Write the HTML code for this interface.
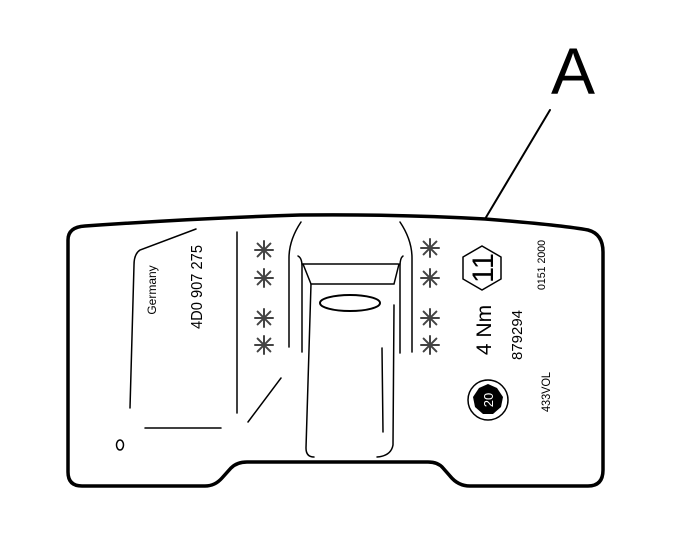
<!DOCTYPE html>
<html><head><meta charset="utf-8"><style>
html,body{margin:0;padding:0;background:#fff;}
svg{display:block;}
text{font-family:"Liberation Sans",sans-serif;}
</style></head><body>
<svg width="680" height="548" viewBox="0 0 680 548" xmlns="http://www.w3.org/2000/svg">
<defs>
<g id="ast" stroke="#444" stroke-width="2" stroke-linecap="round">
<path d="M0,-9 L0,9 M-9,0 L9,0 M-6.4,-6.4 L6.4,6.4 M-6.4,6.4 L6.4,-6.4"/>
</g>
</defs>
<g fill="none" stroke="#000" stroke-linecap="round">
<path d="M85,226 Q200,218 300,215 Q400,214 485,219 Q560,225 588,230 Q603,234 603,252 L603,470 Q603,486 588,486 L470,486 Q458,486 450,476 L443,468 Q438,462 428,462 L247,462 Q237,462 231,468 L222,478 Q215,486 205,486 L82,486 Q68,486 68,472 L68,240 Q68,227 85,226 Z" stroke-width="3.5"/>
<path d="M485,219 L550,110" stroke-width="2"/>
<g stroke-width="1.5">
<path d="M196,229 L140,250 Q134,254 134,265 L130,408"/>
<path d="M237,232 L237,413"/>
<path d="M248,422 L281,378"/>
<path d="M145,428 L221,428"/>
<path d="M301,222 Q289,240 289,258 L289,347"/>
<path d="M298,256 Q302,258 302,266 L302,352"/>
<path d="M303,264 L398,264"/>
<path d="M303,264 L311,284 L394,284 L399,264"/>
<path d="M311,284 L306,448 Q306,457 314,457"/>
<path d="M403,256 Q400,258 400,266 L400,353"/>
<path d="M400,222 Q412,240 412,258 L412,352"/>
<path d="M394,305 L393,445 Q391,456 377,457"/>
<path d="M382,348 L383,432"/>
<ellipse cx="350" cy="303" rx="30" ry="8" stroke-width="2"/>
<polygon points="482,246 501,257 501,279 482,290 463,279 463,257"/>
<circle cx="488" cy="400" r="20"/>
<ellipse cx="120" cy="445" rx="3.5" ry="5"/>
</g>
</g>
<polygon points="488,384 497,388 503,397 501,407 493,414 483,414 475,407 473,397 479,388" fill="#000"/>
<g fill="#000">
<text x="573" y="94" font-size="66" text-anchor="middle">A</text>
<text transform="translate(156,290) rotate(-90)" font-size="12" text-anchor="middle">Germany</text>
<text transform="translate(202,287) rotate(-90)" font-size="16" text-anchor="middle" textLength="84" lengthAdjust="spacingAndGlyphs">4D0 907 275</text>
<text transform="translate(493,268) rotate(-90)" font-size="30" text-anchor="middle" textLength="30" lengthAdjust="spacingAndGlyphs">11</text>
<text transform="translate(491,330) rotate(-90)" font-size="21" text-anchor="middle">4 Nm</text>
<text transform="translate(522,335) rotate(-90)" font-size="15" text-anchor="middle" textLength="50" lengthAdjust="spacingAndGlyphs">879294</text>
<text transform="translate(545,265) rotate(-90)" font-size="11" text-anchor="middle" textLength="50" lengthAdjust="spacingAndGlyphs">0151 2000</text>
<text transform="translate(550,392) rotate(-90)" font-size="12" text-anchor="middle" textLength="40" lengthAdjust="spacingAndGlyphs">433VOL</text>
<text transform="translate(493,400) rotate(-90)" font-size="13" fill="#fff" text-anchor="middle">20</text>
</g>
<use href="#ast" x="264" y="250"/><use href="#ast" x="264" y="278"/><use href="#ast" x="264" y="318"/><use href="#ast" x="264" y="345"/>
<use href="#ast" x="430" y="248"/><use href="#ast" x="430" y="278"/><use href="#ast" x="430" y="318"/><use href="#ast" x="430" y="345"/>
</svg>
</body></html>
